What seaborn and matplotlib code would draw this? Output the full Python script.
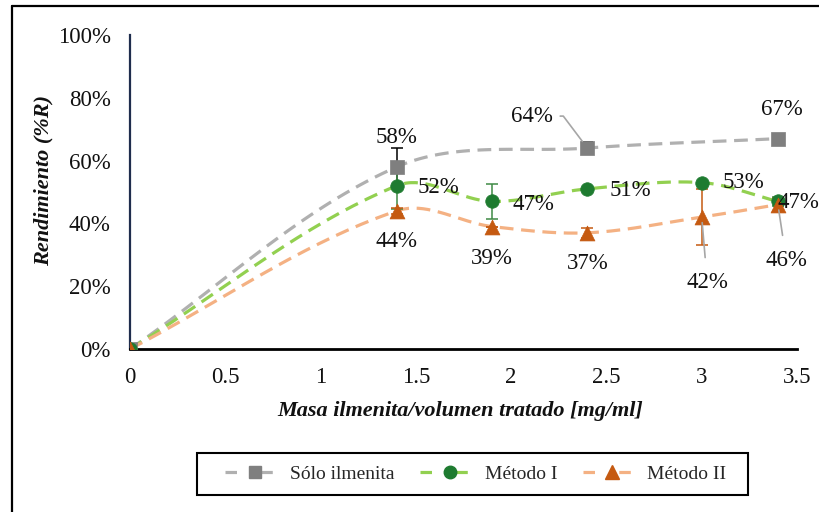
import numpy as np
import pandas as pd
import matplotlib
matplotlib.use("Agg")
import matplotlib.pyplot as plt
from matplotlib.lines import Line2D
from matplotlib.patches import Rectangle
from matplotlib.ticker import FuncFormatter
import seaborn as sns

# Masa de ilmenita por volumen tratado [mg/ml]
x_solo = [0.0, 1.4, 2.4, 3.4]
x_met = [0.0, 1.4, 1.9, 2.4, 3.0, 3.4]

# Rendimiento (%R)
y_solo = [0, 58, 64, 67]
y_met1 = [0, 52, 47, 51, 53, 47]
y_met2 = [0, 44, 39, 37, 42, 46]

# Desviaciones (barras de error, %)
e_solo = [0, 6, 2, 0]
e_met1 = [0, 7.5, 5.5, 0, 0, 1.5]
e_met2 = [0, 1, 0, 1.5, 9, 2]

series_names = ["Sólo ilmenita", "Método I", "Método II"]
x_ticks = [0, 0.5, 1, 1.5, 2, 2.5, 3, 3.5]
y_ticks = [0, 20, 40, 60, 80, 100]

SERIF = ["Liberation Serif", "DejaVu Serif"]

# Tamaño del área de trazado en píxeles (para suavizar en espacio de pantalla)
AX_W, AX_H = 667.0, 314.0
X_MAX, Y_MAX = 3.5, 100.0


def smooth_curve(xs, ys, steps=40):
    """Cubic Bezier smoothing through every point, with control points
    proportional to each segment's on-screen length."""
    sx, sy = AX_W / X_MAX, AX_H / Y_MAX
    P = np.column_stack([np.asarray(xs, float) * sx, np.asarray(ys, float) * sy])
    n = len(P)
    out = [P[0]]
    t = np.linspace(0, 1, steps)[1:, None]
    for i in range(n - 1):
        p0 = P[i - 1] if i > 0 else P[i]
        p1, p2 = P[i], P[i + 1]
        p3 = P[i + 2] if i + 2 < n else P[i + 1]
        seg_len = np.linalg.norm(p2 - p1)
        d1 = p2 - p0
        d2 = p3 - p1
        d1 = d1 / np.linalg.norm(d1)
        d2 = d2 / np.linalg.norm(d2)
        c1 = p1 + d1 * seg_len / 3.0
        c2 = p2 - d2 * seg_len / 3.0
        seg = ((1 - t) ** 3) * p1 + 3 * ((1 - t) ** 2) * t * c1 \
            + 3 * (1 - t) * t ** 2 * c2 + t ** 3 * p2
        out.extend(seg)
    out = np.array(out)
    return out[:, 0] / sx, out[:, 1] / sy


sns.set_theme(style="white")
plt.rcParams["font.family"] = SERIF

fig = plt.figure(figsize=(8.2, 5.12), dpi=100)
ax = fig.add_axes([130 / 820, 1 - 349 / 512, AX_W / 820, AX_H / 512])

styles = [
    dict(line="#b0b0b0", mk="#7f7f7f", marker="s", err="#000000"),
    dict(line="#92d050", mk="#1e7b30", marker="o", err="#3f8a45"),
    dict(line="#f4b183", mk="#c55a11", marker="^", err="#c55a11"),
]
dash = (0, (4.3, 2.4))
lw = 2.3

data = [(x_solo, y_solo, e_solo), (x_met, y_met1, e_met1), (x_met, y_met2, e_met2)]
for (xs, ys, es), st in zip(data, styles):
    sx, sy = smooth_curve(xs, ys)
    curve = pd.DataFrame({"x": sx, "y": sy})
    sns.lineplot(data=curve, x="x", y="y", ax=ax, sort=False, estimator=None,
                 color=st["line"], lw=lw, linestyle=dash, zorder=2)

for (xs, ys, es), st in zip(data, styles):
    ax.errorbar(xs, ys, yerr=es, fmt="none", ecolor=st["err"], elinewidth=1.1,
                capsize=4, capthick=1.1, zorder=3)
    ms = 95 if st["marker"] != "^" else 115
    sns.scatterplot(x=xs, y=ys, ax=ax, marker=st["marker"], s=ms, color=st["mk"],
                    edgecolor=st["mk"], linewidth=0.5, zorder=4, legend=False)

# Etiquetas de datos: desplazamientos en puntos respecto al marcador
label_offsets = [
    [None, (0, 21), (-40, 23), (3, 21)],
    [None, (30, -1), (30, -2), (31, -1), (30, 0), (15, -1)],
    [None, (0, -22), (0, -23), (0, -22), (4, -47), (6, -40)],
]
leader_styles = {
    (0, 2): dict(connectionstyle="angle,angleA=0,angleB=127,rad=0", relpos=(1.0, 0.5),
                 shrinkA=3, shrinkB=6),
    (2, 4): dict(shrinkA=8, shrinkB=4),
    (2, 5): dict(shrinkA=8, shrinkB=4),
}
for si, ((xs, ys, es), offs) in enumerate(zip(data, label_offsets)):
    for pi, (xv, yv) in enumerate(zip(xs, ys)):
        off = offs[pi]
        if off is None:
            continue
        arrow = None
        if (si, pi) in leader_styles:
            arrow = dict(arrowstyle="-", color="#a6a6a6", lw=1.2, **leader_styles[(si, pi)])
        ax.annotate(f"{yv:.0f}%", (xv, yv), xytext=off, textcoords="offset points",
                    ha="center", va="center", fontsize=16.5, color="#111111",
                    arrowprops=arrow, zorder=5, annotation_clip=False)

ax.set_xlim(0, X_MAX)
ax.set_ylim(0, Y_MAX)
ax.set_xticks(x_ticks)
ax.set_yticks(y_ticks)
ax.xaxis.set_major_formatter(FuncFormatter(lambda v, p: f"{v:g}"))
ax.yaxis.set_major_formatter(FuncFormatter(lambda v, p: f"{v:.0f}%"))
ax.tick_params(axis="both", length=0, labelsize=16.5, labelcolor="#111111")
ax.tick_params(axis="x", pad=13)
ax.tick_params(axis="y", pad=14)
for lab in ax.get_xticklabels() + ax.get_yticklabels():
    lab.set_fontfamily(SERIF)

for side in ("top", "right"):
    ax.spines[side].set_visible(False)
ax.spines["bottom"].set_color("#000000")
ax.spines["bottom"].set_linewidth(2.0)
ax.spines["left"].set_color("#1f2d4d")
ax.spines["left"].set_linewidth(1.6)
ax.set_facecolor("white")

ax.set_xlabel("Masa ilmenita/volumen tratado [mg/ml]", fontsize=16,
              fontweight="bold", fontstyle="italic", family=SERIF,
              color="#111111")
ax.xaxis.set_label_coords((460 - 130) / AX_W, -(401 - 349) / AX_H)
ax.set_ylabel("Rendimiento (%R)", fontsize=16, fontweight="bold",
              fontstyle="italic", family=SERIF, color="#111111")
ax.yaxis.set_label_coords(-(130 - 54) / AX_W, (349 - 181) / AX_H)

handles = []
for st, name in zip(styles, series_names):
    handles.append(Line2D([0], [0], color=st["line"], lw=lw,
                          linestyle=(0, (3.6, 7.6)), marker=st["marker"],
                          markersize=9 if st["marker"] != "^" else 10,
                          markerfacecolor=st["mk"], markeredgecolor=st["mk"],
                          label=name))
leg = fig.legend(handles=handles, loc="center", bbox_to_anchor=(476 / 820, 1 - 474 / 512),
                 ncol=3, frameon=False, handlelength=3.0, handletextpad=0.3,
                 columnspacing=1.35, prop={"family": SERIF, "size": 14})
fig.add_artist(Rectangle((197 / 820, 1 - 495 / 512), 551 / 820, 42 / 512,
                         transform=fig.transFigure, fill=False,
                         edgecolor="#000000", lw=1.5))

# Marco exterior del gráfico
fig.add_artist(Line2D([12 / 820, 1.0], [1 - 6 / 512, 1 - 6 / 512],
                      transform=fig.transFigure, color="#000000", lw=1.6))
fig.add_artist(Line2D([12 / 820, 12 / 820], [0.0, 1 - 6 / 512],
                      transform=fig.transFigure, color="#000000", lw=1.6))

fig.savefig("out.png", dpi=100, facecolor="white")
